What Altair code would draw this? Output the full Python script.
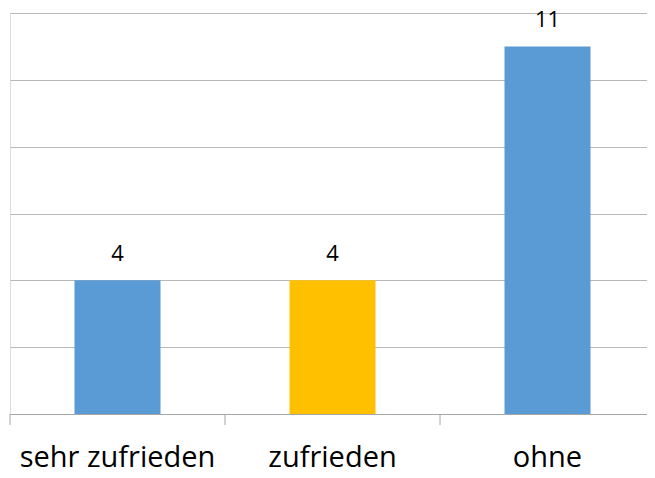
import altair as alt
import pandas as pd

categories = ["sehr zufrieden", "zufrieden", "ohne"]
values = [4, 4, 11]
bar_colors = ["#5B9BD5", "#FFC000", "#5B9BD5"]
y_ticks = [0, 2, 4, 6, 8, 10, 12]

df = pd.DataFrame({"cat": categories, "val": values, "col": bar_colors})

FONT = "Open Sans"
xscale = alt.Scale(paddingInner=0.6, paddingOuter=0.3, range=[0, 645])

x = alt.X(
    "cat:N",
    sort=categories,
    title=None,
    scale=xscale,
    axis=alt.Axis(
        ticks=False,
        domainColor="#a6a6a6",
        labelAngle=0,
        labelFont=FONT,
        labelFontSize=29,
        labelColor="#000000",
        labelBaseline="alphabetic",
        labelPadding=52,
        labelLimit=0,
        grid=False,
    ),
)
y = alt.Y(
    "val:Q",
    title=None,
    scale=alt.Scale(domain=[0, 12], nice=False),
    axis=alt.Axis(
        values=y_ticks,
        labels=False,
        ticks=False,
        domain=False,
        grid=True,
        gridColor="#b8b8b8",
        gridWidth=1,
    ),
)

bars = alt.Chart(df).mark_bar().encode(
    x=x,
    y=y,
    color=alt.Color("col:N", scale=None),
)

ticks = alt.Chart(df).mark_rule(color="#a6a6a6", strokeWidth=1, xOffset=-64.5).encode(
    x=alt.X("cat:N", sort=categories, bandPosition=0),
    y=alt.value(401),
    y2=alt.value(412),
)

labels = alt.Chart(df).mark_text(
    baseline="alphabetic", dy=-19, font=FONT, fontSize=22, color="#000000"
).encode(
    x=alt.X("cat:N", sort=categories),
    y="val:Q",
    text="val:Q",
)

chart = (
    alt.layer(bars, ticks, labels)
    .properties(
        width=637,
        height=401,
        autosize=alt.AutoSizeParams(type="none"),
        padding={"left": 2, "top": 5, "right": 0, "bottom": 56},
    )
    .configure_view(strokeWidth=0, stroke="transparent")
    .configure(background="white")
)

chart.save("out.html", embed_options={"renderer": "svg", "actions": False})
